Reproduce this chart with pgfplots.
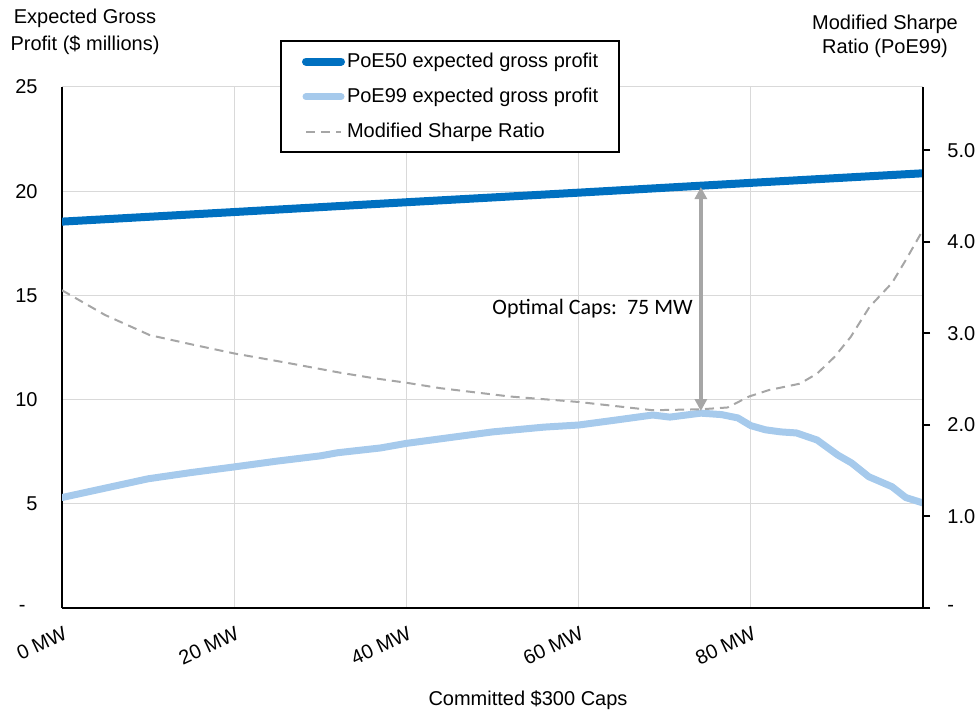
\documentclass[border=0pt]{standalone}
\usepackage{fontspec}
\setmainfont{Liberation Sans}
\newfontfamily\carlito{Carlito}
\usepackage{pgfplots}
\pgfplotsset{compat=1.18}
\usetikzlibrary{arrows.meta}
\definecolor{darkblue}{HTML}{0070C0}
\definecolor{lightblue}{HTML}{A6CAEC}
\definecolor{midgray}{HTML}{A6A6A6}
\definecolor{gridgray}{HTML}{D9D9D9}
\begin{document}
\begin{tikzpicture}
\begin{axis}[
  name=main,
  scale only axis,
  width=430.5bp, height=260.5bp,
  xmin=0, xmax=100, ymin=0, ymax=25,
  axis x line*=bottom, axis y line*=left,
  axis line style={black, line width=1.25bp, -},
  xtick={0,20,40,60,80}, xticklabels={0 MW,20 MW,40 MW,60 MW,80 MW},
  ytick={0,5,10,15,20,25}, yticklabels={-\rule{6bp}{0pt},5,10,15,20,25},
  major tick length=0pt,
  grid=major, grid style={gridgray, line width=0.5bp},
  tick label style={font=\fontsize{10bp}{12bp}\selectfont, black},
  yticklabel style={anchor=east, inner sep=0pt, xshift=-12bp},
  xticklabel style={rotate=25, anchor=north east, inner sep=0pt, yshift=-8bp, xshift=-3.5bp},
  legend style={at={(0.2532,1.0902)}, anchor=north west, draw=black, line width=1bp, fill=white,
    inner xsep=10.5bp, inner ysep=5.5bp, font=\fontsize{10bp}{12bp}\selectfont,
    nodes={inner sep=0pt, text height=7.5bp, text depth=2bp}, row sep=8.1bp, column sep=1bp},
  legend cell align=left,
  legend image code/.code={\draw[#1] plot coordinates {(2bp,0bp) (10.75bp,0bp) (19.5bp,0bp)};},
]
\addplot[darkblue, line width=4bp, line cap=round] coordinates {
(0,18.54) (20,19.0) (40,19.47) (60,19.93) (80,20.4) (100,20.86)};
\addlegendentry{PoE50 expected gross profit}
\addplot[lightblue, line width=3.5bp, line cap=round, line join=round] coordinates {
(0,5.3) (5,5.75) (10,6.2) (15,6.5) (20,6.77) (25,7.05) (30,7.3) (32,7.45) (37,7.68) (40,7.9)
(44,8.12) (50,8.45) (56,8.68) (60,8.78) (64,9.0) (68.6,9.26) (70.6,9.16) (74.2,9.35)
(76.6,9.28) (78.5,9.12) (80,8.75) (81.7,8.55) (83.5,8.45) (85.3,8.40) (87.7,8.06)
(90.1,7.34) (91.7,6.96) (93.7,6.30) (96.4,5.82) (98,5.30) (100,5.04)};
\addlegendentry{PoE99 expected gross profit}
\addplot[midgray, line width=2bp, {Triangle[length=6bp,width=6bp]}-{Triangle[length=6bp,width=6bp]}, forget plot] coordinates {(74.2,20.2) (74.2,9.45)};
\addlegendimage{midgray, line width=1bp, dash pattern=on 4.5bp off 3bp}
\addlegendentry{Modified Sharpe Ratio}
\node[anchor=east, font=\carlito\fontsize{11bp}{13bp}\selectfont, inner sep=0pt] at (axis cs:73.3,14.35) {Optimal Caps:\ \ 75 MW};
\end{axis}
\begin{axis}[
  scale only axis,
  width=430.5bp, height=260.5bp,
  xmin=0, xmax=100, ymin=0, ymax=5.69,
  axis x line=none, axis y line*=right,
  axis line style={black, line width=1.25bp, -},
  ytick={0,1,2,3,4,5}, yticklabels={-,1.0,2.0,3.0,4.0,5.0},
  tick align=outside, major tick length=3.5bp, tick style={black, line width=1bp},
  tick label style={font=\fontsize{10bp}{12bp}\selectfont, black},
  yticklabel style={anchor=west, inner sep=0pt, xshift=8.5bp},
]
\addplot[midgray, line width=1bp, dash pattern=on 4.5bp off 3bp] coordinates {
(0,3.47) (5,3.2) (10.2,2.98) (15,2.88) (20,2.78) (26,2.68) (32.3,2.57) (36.2,2.51) (40,2.46)
(44,2.40) (52,2.31) (60,2.25) (68.6,2.16) (74.2,2.17) (77.3,2.19) (79.8,2.31) (82.1,2.38)
(85.7,2.45) (87.7,2.56) (89.7,2.74) (91.6,2.96) (93.8,3.29) (96.4,3.55) (98,3.80) (100,4.13)};
\end{axis}
\node[align=center, font=\fontsize{10bp}{13.5bp}\selectfont] at ([shift={(11.5bp,288.25bp)}]main.south west) {Expected Gross\\Profit (\$ millions)};
\node[align=center, font=\fontsize{10bp}{12bp}\selectfont, inner sep=0pt] at ([shift={(411.5bp,285.75bp)}]main.south west) {Modified Sharpe\\Ratio (PoE99)};
\node[font=\fontsize{10bp}{12bp}\selectfont] at ([shift={(233bp,-46bp)}]main.south west) {Committed \$300 Caps};
\path ([shift={(-31bp,-49bp)}]main.south west) rectangle ([shift={(457.5bp,304bp)}]main.south west);
\end{tikzpicture}
\end{document}
